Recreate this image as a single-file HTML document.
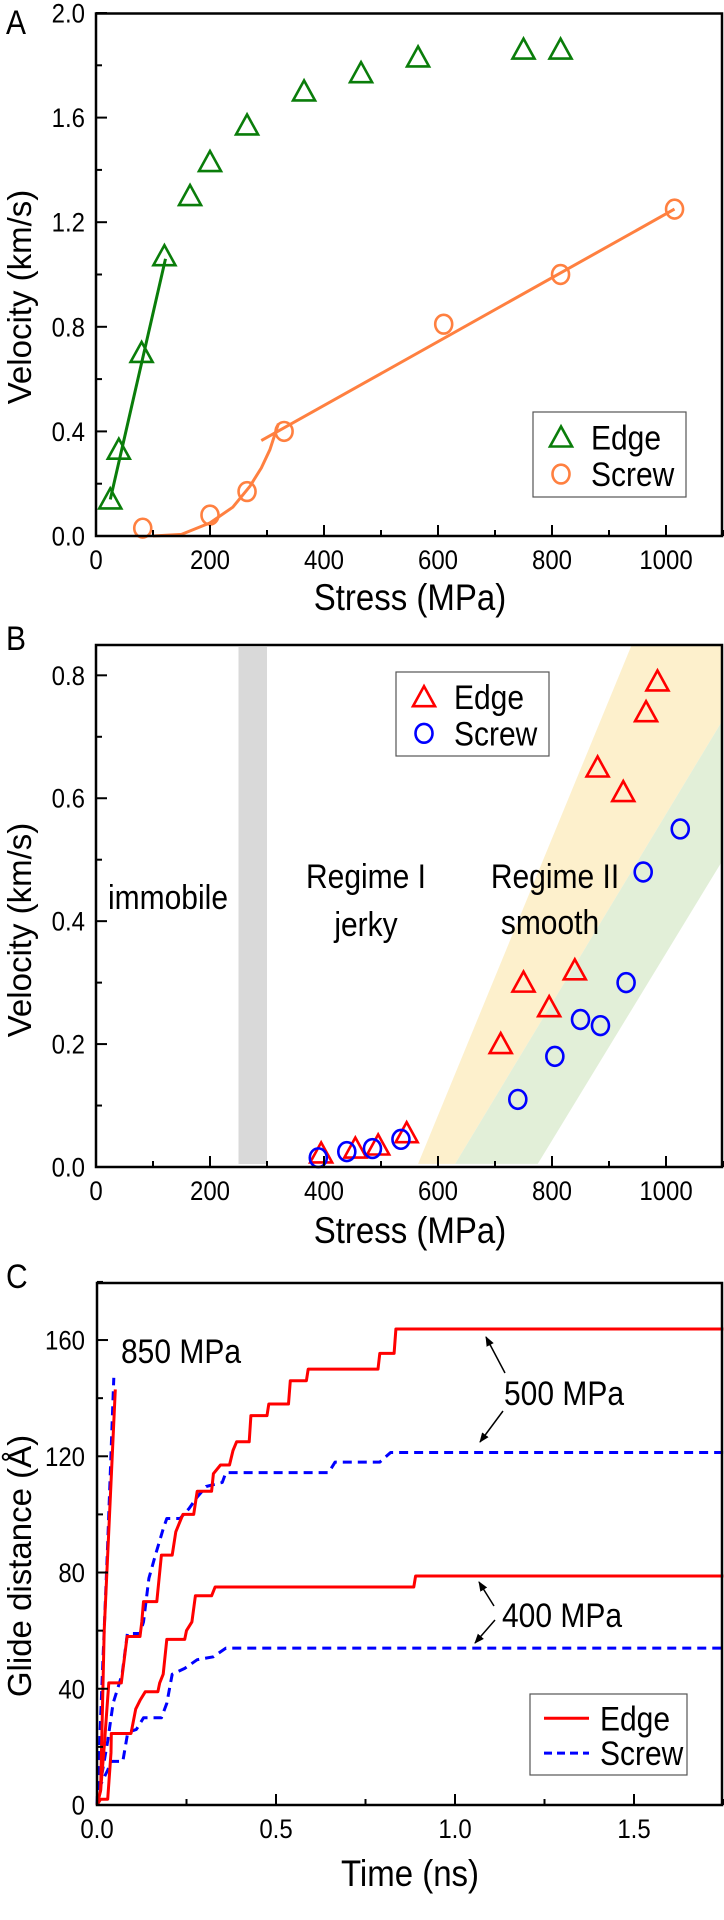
<!DOCTYPE html>
<html><head><meta charset="utf-8"><style>
html,body{margin:0;padding:0;background:#fff;}
svg{display:block;font-family:"Liberation Sans",Arial,sans-serif;}
</style></head><body>
<svg id="fig" width="724" height="1920" viewBox="0 0 724 1920" xmlns="http://www.w3.org/2000/svg"></svg>
<script>
// ---------- Panel A data ----------
const aEdgeStress=[25,40,80,120,165,200,265,365,465,565,750,815];
const aEdgeVel=[0.14,0.33,0.70,1.07,1.30,1.43,1.57,1.70,1.77,1.83,1.86,1.86];
const aScrewStress=[82,200,265,330,610,815,1015];
const aScrewVel=[0.03,0.08,0.17,0.40,0.81,1.00,1.25];
const aEdgeFitX=[25,122];
const aEdgeFitY=[0.14,1.06];
const aScrewCurveX=[100,150,200,240,270,290,305,320];
const aScrewCurveY=[0,0.006,0.05,0.11,0.19,0.26,0.33,0.43];
const aScrewLineX=[290,1015];
const aScrewLineY=[0.365,1.25];
// ---------- Panel B data ----------
const bEdgeStress=[395,455,495,545,710,750,795,840,880,925,965,985];
const bEdgeVel=[0.022,0.03,0.035,0.055,0.20,0.30,0.26,0.32,0.65,0.61,0.74,0.79];
const bScrewStress=[390,440,485,535,740,805,850,885,930,960,1025];
const bScrewVel=[0.015,0.025,0.03,0.045,0.11,0.18,0.24,0.23,0.30,0.48,0.55];
const bYellowX=[565,940,1100,1100,630];
const bYellowY=[0.005,0.85,0.85,0.728,0.005];
const bGreenX=[630,1100,1100,775];
const bGreenY=[0.005,0.728,0.5,0.005];
// ---------- Panel C data ----------
const cEdge500T=[0,0.01,0.02,0.033,0.068,0.084,0.12,0.125,0.13,0.167,0.18,0.21,0.22,0.24,0.27,0.28,0.32,0.325,0.345,0.37,0.38,0.39,0.425,0.43,0.475,0.48,0.535,0.54,0.585,0.59,0.785,0.79,0.83,0.835,1.75];
const cEdge500D=[0,5,20,42,42,58,58,63,70,70,86,86,94,100,100,108,108,114,117,117,122,125,125,134,134,138,138,146,146,150,150,155.4,155.4,163.8,163.8];
const cScrew500T=[0,0.01,0.03,0.045,0.07,0.085,0.12,0.13,0.145,0.163,0.185,0.195,0.232,0.257,0.28,0.305,0.35,0.36,0.647,0.665,0.79,0.82,1.75];
const cScrew500D=[0,8,22,35,45,59,59,63,78,86,95,98.6,98.6,102,106,109.6,111,114.4,114.4,118,118,121.3,121.3];
const cEdge400T=[0,0.01,0.03,0.039,0.04,0.095,0.108,0.12,0.135,0.17,0.175,0.185,0.195,0.245,0.25,0.265,0.275,0.32,0.33,0.885,0.89,1.75];
const cEdge400D=[0,2,2,18,24.6,24.6,33,36,39,39,42,45,57,57,60,63,72,72,75,75,78.8,78.8];
const cScrew400T=[0,0.01,0.03,0.04,0.072,0.086,0.11,0.13,0.18,0.195,0.21,0.245,0.28,0.325,0.36,1.75];
const cScrew400D=[0,7,12,15,15,25,26,30,30,35,45,47,50,51,54,54];
const cEdge850T=[0,0.01,0.02,0.051];
const cEdge850D=[0,5,60,143];
const cScrew850T=[0,0.01,0.03,0.047];
const cScrew850D=[0,30,90,147];

const NS="http://www.w3.org/2000/svg";
const svg=document.getElementById('fig');
function mk(tag,attrs,parent){const e=document.createElementNS(NS,tag);for(const k in attrs)e.setAttribute(k,attrs[k]);(parent||svg).appendChild(e);return e;}
function txt(s,x,y,size,anchor,parent,extra){
  const a=Object.assign({x:0,y:0,'font-size':size,'text-anchor':anchor||'start',fill:'#000',transform:`translate(${x},${y}) scale(1,1.13)`},extra||{});
  const e=mk('text',a,parent);e.textContent=s;return e;}

function axes(g,L,T,R,B,sx,sy,xTicks,xMinor,yTicks,yMinor,xFmt,yFmt){
  xMinor.forEach(v=>{const l=mk('line',{x1:sx(v),x2:sx(v),y1:B,y2:B-6,stroke:'#000','stroke-width':2},g);});
  yMinor.forEach(v=>{const l=mk('line',{x1:L,x2:L+6,y1:sy(v),y2:sy(v),stroke:'#000','stroke-width':2},g);});
  xTicks.forEach(v=>{const l=mk('line',{x1:sx(v),x2:sx(v),y1:B,y2:B-11,stroke:'#000','stroke-width':2},g);
    const t=txt(xFmt(v),sx(v),B+33,24,'middle',g);});
  yTicks.forEach(v=>{const l=mk('line',{x1:L,x2:L+11,y1:sy(v),y2:sy(v),stroke:'#000','stroke-width':2},g);
    const t=txt(yFmt(v),85,sy(v)+9.5,24,'end',g);});
  const f=mk('rect',{x:L,y:T,width:R-L,height:B-T,fill:'none',stroke:'#000','stroke-width':2.5},g);
  
}
function tri(g,x,y,color){return mk('polygon',{points:`${x},${y-11} ${x-11},${y+9} ${x+11},${y+9}`,fill:'none',stroke:color,'stroke-width':2.6},g);}
function circ(g,x,y,color){return mk('ellipse',{cx:x,cy:y,rx:8.5,ry:9.4,fill:'none',stroke:color,'stroke-width':2.6},g);}
function path(g,xs,ys,sx,sy,color,w,dash){let d='';xs.forEach((v,i)=>{d+=(i?'L':'M')+sx(v).toFixed(1)+','+sy(ys[i]).toFixed(1);});const a={d:d,fill:'none',stroke:color,'stroke-width':w,'stroke-linejoin':'round'};if(dash)a['stroke-dasharray']=dash;return mk('path',a,g);}
function legend(g,x,y,w,h,items,tx){const r=mk('rect',{x:x,y:y,width:w,height:h,fill:'#fff',stroke:'#555','stroke-width':1.2},g);
  items.forEach((it,i)=>{const cy=y+h*(i===0?0.3:0.73);const ig=mk('g',{},g);
    it.draw(ig,x+28,cy);txt(it.label,x+(tx||58),cy+12,30,'start',ig);});}
function ytitle(s,cy){return mk('text',{x:0,y:0,'font-size':33,'text-anchor':'middle',fill:'#000',transform:`translate(31,${cy}) rotate(-90)`},svg);}
function ytitleT(s,cy){const t=ytitle(s,cy);t.textContent=s;return t;}

// ===== Panel A =====
(function(){
const g=mk('g',{});
const L=96,T=13.5,R=722,B=536;
const sx=v=>L+v*0.57, sy=v=>B-v*261.5;
const pl=txt('A',6,34,30,'start',g);
const ef=path(g,aEdgeFitX,aEdgeFitY,sx,sy,'#0a7d0a',3);
const sc=path(g,aScrewCurveX,aScrewCurveY,sx,sy,'#ff8040',3);
const sl=path(g,aScrewLineX,aScrewLineY,sx,sy,'#ff8040',3);
aEdgeStress.forEach((s,i)=>{const m=tri(g,sx(s),sy(aEdgeVel[i]),'#0a7d0a');});
aScrewStress.forEach((s,i)=>{const m=circ(g,sx(s),sy(aScrewVel[i]),'#ff8040');});
axes(g,L,T,R,B,sx,sy,[0,200,400,600,800,1000],[100,300,500,700,900,1100],[0,0.4,0.8,1.2,1.6,2.0],[0.2,0.6,1.0,1.4,1.8],v=>String(v),v=>v.toFixed(1));
legend(g,533,412,153,85,[{label:'Edge',draw:(gg,x,y)=>tri(gg,x,y,'#0a7d0a')},{label:'Screw',draw:(gg,x,y)=>circ(gg,x,y,'#ff8040')}]);
const xt=txt('Stress (MPa)',410,610,33,'middle',g);
const yt=ytitleT('Velocity (km/s)',297);
})();

// ===== Panel B =====
(function(){
const g=mk('g',{});
const L=96,T=645,R=722,B=1167;
const sx=v=>L+v*0.57, sy=v=>B-v*614.6;
const pl=txt('B',6,650,30,'start',g);
const gr=mk('rect',{x:sx(250),y:T+2,width:sx(300)-sx(250),height:B-T-5,fill:'#d9d9d9'},g);
const yb=mk('polygon',{points:bYellowX.map((v,i)=>sx(v)+','+sy(bYellowY[i])).join(' '),fill:'#fdf0cc'},g);
const gb=mk('polygon',{points:bGreenX.map((v,i)=>sx(v)+','+sy(bGreenY[i])).join(' '),fill:'#e2efd8'},g);
bEdgeStress.forEach((s,i)=>{const m=tri(g,sx(s),sy(bEdgeVel[i]),'#ff0000');});
bScrewStress.forEach((s,i)=>{const m=circ(g,sx(s),sy(bScrewVel[i]),'#0000ff');});
[['immobile',168,909,'immobile-label'],['Regime I',366,888,'regime-1-label'],['jerky',366,936,'jerky-label'],['Regime II',555,888,'regime-2-label'],['smooth',550,934,'smooth-label']].forEach(a=>{const t=txt(a[0],a[1],a[2],30,'middle',g);});
axes(g,L,T,R,B,sx,sy,[0,200,400,600,800,1000],[100,300,500,700,900,1100],[0,0.2,0.4,0.6,0.8],[0.1,0.3,0.5,0.7],v=>String(v),v=>v.toFixed(1));
legend(g,396,672,153,84,[{label:'Edge',draw:(gg,x,y)=>tri(gg,x,y,'#ff0000')},{label:'Screw',draw:(gg,x,y)=>circ(gg,x,y,'#0000ff')}]);
const xt=txt('Stress (MPa)',410,1243,33,'middle',g);
const yt=ytitleT('Velocity (km/s)',930);
})();

// ===== Panel C =====
(function(){
const g=mk('g',{});
const L=97,T=1283,R=722,B=1805;
const sx=v=>L+v*358, sy=v=>B-v*2.906;
const pl=txt('C',6,1288,30,'start',g);
const dash='9,6';
[[cScrew400T,cScrew400D,'screw-400-line'],[cScrew500T,cScrew500D,'screw-500-line'],[cScrew850T,cScrew850D,'screw-850-line']].forEach(a=>{const p=path(g,a[0],a[1],sx,sy,'#0000ff',3,dash);});
[[cEdge400T,cEdge400D,'edge-400-line'],[cEdge500T,cEdge500D,'edge-500-line'],[cEdge850T,cEdge850D,'edge-850-line']].forEach(a=>{const p=path(g,a[0],a[1],sx,sy,'#ff0000',3);});
axes(g,L,T,R,B,sx,sy,[0,0.5,1.0,1.5],[0.25,0.75,1.25,1.75],[0,40,80,120,160],[20,60,100,140,180],v=>v.toFixed(1),v=>String(v));
const defs=mk('defs',{});const mkr=mk('marker',{id:'ah',markerWidth:10,markerHeight:10,refX:9,refY:5,orient:'auto',markerUnits:'userSpaceOnUse'},defs);mk('path',{d:'M0,1 L10,5 L0,9 z',fill:'#000'},mkr);
[[505,1373,486,1337],[503,1411,480,1442],[494,1606,479,1582],[495,1620,475,1643]].forEach(a=>{const l=mk('line',{x1:a[0],y1:a[1],x2:a[2],y2:a[3],stroke:'#000','stroke-width':1.5,'marker-end':'url(#ah)'},g);});
[['850 MPa',121,1363,'label-850-mpa'],['500 MPa',504,1405,'label-500-mpa'],['400 MPa',502,1627,'label-400-mpa']].forEach(a=>{const t=txt(a[0],a[1],a[2],30,'start',g);});
legend(g,530,1694,157,81,[{label:'Edge',draw:(gg,x,y)=>mk('line',{x1:x-14,x2:x+31,y1:y,y2:y,stroke:'#ff0000','stroke-width':3},gg)},{label:'Screw',draw:(gg,x,y)=>mk('line',{x1:x-14,x2:x+31,y1:y,y2:y,stroke:'#0000ff','stroke-width':3,'stroke-dasharray':'8,5'},gg)}],70);
const xt=txt('Time (ns)',410,1886,33,'middle',g);
const yt=ytitleT('Glide distance (Å)',1566);
})();
</script>
</body></html>
